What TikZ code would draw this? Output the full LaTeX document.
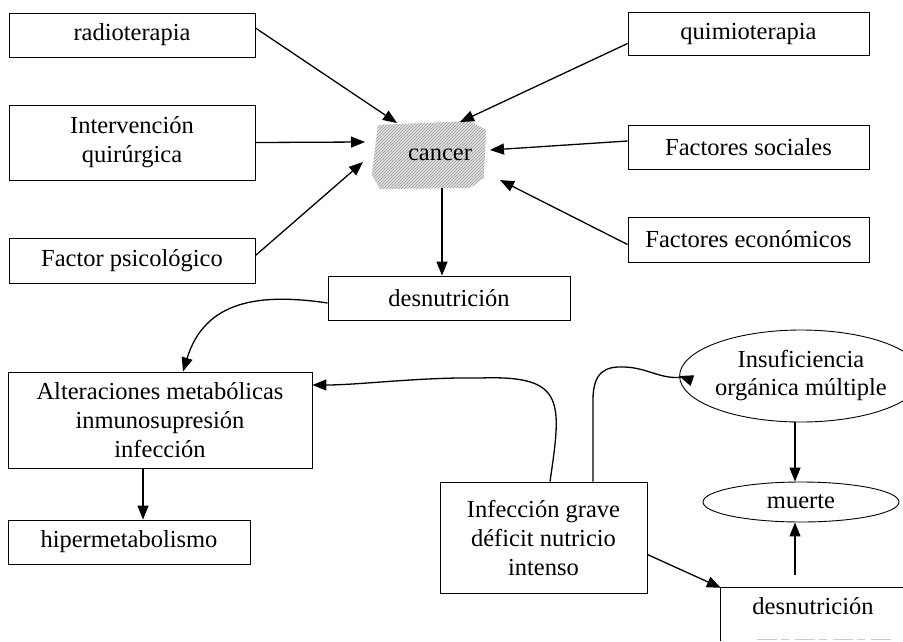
\documentclass[tikz,border=0pt]{standalone}
\usepackage{fontspec}
\setmainfont{Liberation Serif}
\usetikzlibrary{arrows.meta,calc,patterns,shapes.geometric}
\tikzset{
  box/.style={draw, line width=0.9pt, inner sep=0pt, align=center, font=\fontsize{24.5}{29}\selectfont},
  oval/.style={draw, ellipse, line width=0.9pt, inner sep=0pt, align=center, font=\fontsize{24.5}{28}\selectfont},
  txt/.style={inner sep=0pt, align=center, font=\fontsize{24.5}{29}\selectfont},
  arr/.style={line width=1.3pt, -{Triangle[length=14pt,width=11pt]}},
}
\begin{document}
\begin{tikzpicture}[x=1pt,y=-1pt]
\useasboundingbox (0,0) rectangle (903,641);
% shaded cancer area
\path[fill=gray!22] (378,125) -- (470,121) -- (486,130) -- (484,178) -- (470,188) -- (380,189) -- (372,175) -- (376,140) -- cycle;
\path[pattern=north east lines, pattern color=gray!80] (378,125) -- (470,121) -- (486,130) -- (484,178) -- (470,188) -- (380,189) -- (372,175) -- (376,140) -- cycle;
\node[txt, minimum width=130pt, minimum height=66pt] (cancer) at (440,155) {cancer};

\node[box, minimum width=246pt, minimum height=44pt] (rad) at (132,35) {radioterapia};
\node[box, minimum width=246pt, minimum height=75pt] (int) at (132,142.5) {Intervención\\quirúrgica};
\node[box, minimum width=246pt, minimum height=45pt] (psi) at (132,260.5) {Factor psicológico};
\node[box, minimum width=241pt, minimum height=43pt] (qui) at (748.5,33.5) {quimioterapia};
\node[box, minimum width=241pt, minimum height=44pt] (soc) at (748.5,147) {Factores sociales};
\node[box, minimum width=241pt, minimum height=45pt] (eco) at (748.5,239.5) {Factores económicos};
\node[box, minimum width=242pt, minimum height=44pt] (d1) at (449,298) {desnutrición};
\node[box, minimum width=304pt, minimum height=96pt] (alt) at (160,420) {Alteraciones metabólicas\\inmunosupresión\\infección};
\node[box, minimum width=242pt, minimum height=44pt] (hip) at (129,542) {hipermetabolismo};
\node[box, minimum width=207pt, minimum height=111pt] (inf) at (543.5,537.5) {Infección grave\\déficit nutricio\\intenso};
\node[oval, minimum width=196pt, minimum height=92pt] (ins) at (801,376) {Insuficiencia\\orgánica múltiple};
\node[oval, minimum width=196pt, minimum height=40pt] (mue) at (801,502) {muerte};
\node[txt, minimum width=184pt, minimum height=36pt] (d2) at (813,606) {desnutrición};
\draw[line width=0.9pt] (d2.north east) -- (d2.north west) -- ++(0,53);
\draw[gray!40, line width=0.8pt, dash pattern=on 20pt off 4pt on 8pt off 6pt] (757,639) -- (893,639);

% arrows into cancer
\draw[arr] ($(rad.east)+(0,-7)$) -- ($(cancer.center)+(-43,-32)$);
\draw[arr] (int.east) -- ($(cancer.center)+(-75,-13)$);
\draw[arr] ($(psi.east)+(0,-5)$) -- ($(cancer.center)+(-77,7)$);
\draw[arr] ($(qui.west)+(0,10)$) -- ($(cancer.center)+(20,-33)$);
\draw[arr] ($(soc.west)+(0,-6)$) -- ($(cancer.center)+(50,-5)$);
\draw[arr] ($(eco.west)+(0,5)$) -- ($(cancer.center)+(60,25)$);
\draw[arr] ($(cancer.south)+(2,0)$) -- ($(cancer.south |- d1.north)+(2,0)$);

% desnutrición -> alteraciones
\draw[arr] ($(d1.west)+(0,5)$) .. controls (260,293) and (205,300) .. ($(alt.north)+(23,0)$);
\draw[arr] ($(alt.south)+(-17,0)$) -- ($(hip.north)+(14,0)$);
% infección -> alteraciones
\draw[arr] ($(inf.north)+(6.5,0)$) .. controls (562,400) and (565,375) .. (480,378) .. controls (420,377) and (360,385) .. ($(alt.east)+(0,-35)$);
% infección -> insuficiencia
\draw[arr] ($(inf.north)+(49.5,0)$) -- (593,400) .. controls (593,372) and (605,366) .. (625,367) .. controls (648,368) and (662,380) .. (682,377) -- (ins.west);
% infección -> desnutrición
\draw[arr] ($(inf.east)+(0,17)$) -- (d2.north west);
% insuficiencia -> muerte
\draw[arr] ($(ins.south)+(-6,0)$) -- ($(mue.north)+(-6,0)$);
% desnutrición -> muerte
\coordinate (d2top) at ($(d2.north)+(-18,-13)$);
\draw[arr] (d2top) -- (d2top |- mue.south);
\end{tikzpicture}
\end{document}
